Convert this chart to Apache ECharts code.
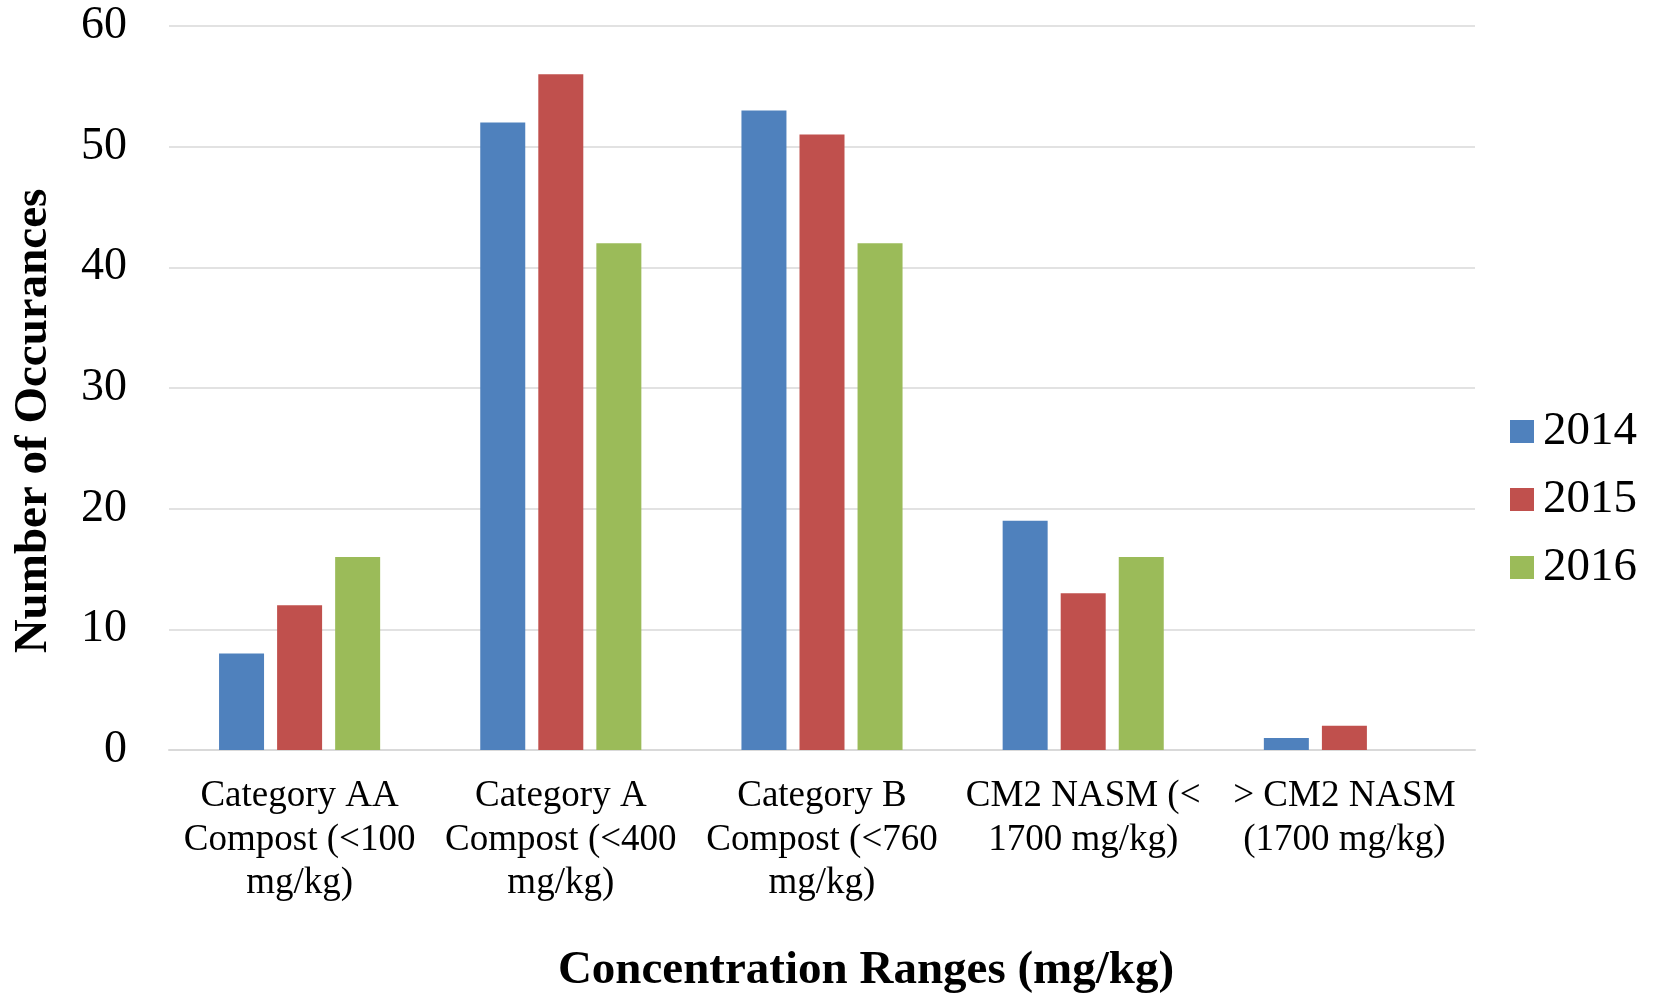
<!DOCTYPE html>
<html>
<head>
<meta charset="utf-8">
<script src="https://cdn.jsdelivr.net/npm/echarts@6/dist/echarts.min.js"></script>
<style>
  html, body { margin: 0; padding: 0; background: #ffffff; }
  #chart { width: 1656px; height: 995px; }
</style>
</head>
<body>
<div id="chart"></div>
<script>
// Concentration range categories (x axis)
var categories = [
  'Category AA\nCompost (<100\nmg/kg)',
  'Category A\nCompost (<400\nmg/kg)',
  'Category B\nCompost (<760\nmg/kg)',
  'CM2 NASM (<\n1700 mg/kg)',
  '> CM2 NASM\n(1700 mg/kg)'
];

// Number of occurrences per year
var values2014 = [8, 52, 53, 19, 1];
var values2015 = [12, 56, 51, 13, 2];
var values2016 = [16, 42, 42, 16, 0];

var seriesNames = ['2014', '2015', '2016'];
var seriesColors = ['#4F81BD', '#C0504D', '#9BBB59'];

var serif = '"Liberation Serif", "Times New Roman", serif';

var chart = echarts.init(document.getElementById('chart'), null, { renderer: 'canvas' });

function barSeries(name, data, color) {
  return {
    name: name,
    type: 'bar',
    data: data,
    barWidth: 45,
    barGap: '29%',
    itemStyle: { color: color }
  };
}

chart.setOption({
  animation: false,
  backgroundColor: '#ffffff',
  grid: { left: 169, right: 181, top: 26, bottom: 245, containLabel: false },
  legend: {
    orient: 'vertical',
    left: 1505,
    top: 403,
    icon: 'rect',
    itemWidth: 24,
    itemHeight: 23,
    itemGap: 21,
    data: seriesNames,
    textStyle: {
      fontFamily: serif,
      fontSize: 47,
      lineHeight: 47,
      color: '#000000',
      padding: [0, 0, 0, 4]
    }
  },
  xAxis: {
    type: 'category',
    data: categories,
    axisTick: { show: false },
    axisLine: { lineStyle: { color: '#d9d9d9', width: 2 } },
    axisLabel: {
      interval: 0,
      margin: 25,
      fontFamily: serif,
      fontSize: 37,
      lineHeight: 43.5,
      color: '#000000',
      align: 'center'
    }
  },
  yAxis: {
    type: 'value',
    min: 0,
    max: 60,
    interval: 10,
    axisLine: { show: false },
    axisTick: { show: false },
    splitLine: { lineStyle: { color: '#d9d9d9', width: 1.5 } },
    axisLabel: {
      margin: 42,
      fontFamily: serif,
      fontSize: 46,
      color: '#000000'
    }
  },
  graphic: [
    {
      type: 'text',
      x: 866,
      y: 971,
      style: {
        text: 'Concentration Ranges (mg/kg)',
        fontFamily: serif,
        fontSize: 47,
        fontWeight: 'bold',
        fill: '#000000',
        textAlign: 'center',
        textVerticalAlign: 'middle'
      }
    },
    {
      type: 'text',
      x: 34,
      y: 421,
      rotation: Math.PI / 2,
      style: {
        text: 'Number of Occurances',
        fontFamily: serif,
        fontSize: 47,
        fontWeight: 'bold',
        fill: '#000000',
        textAlign: 'center',
        textVerticalAlign: 'middle'
      }
    }
  ],
  series: [
    barSeries(seriesNames[0], values2014, seriesColors[0]),
    barSeries(seriesNames[1], values2015, seriesColors[1]),
    barSeries(seriesNames[2], values2016, seriesColors[2])
  ]
});
</script>
</body>
</html>
